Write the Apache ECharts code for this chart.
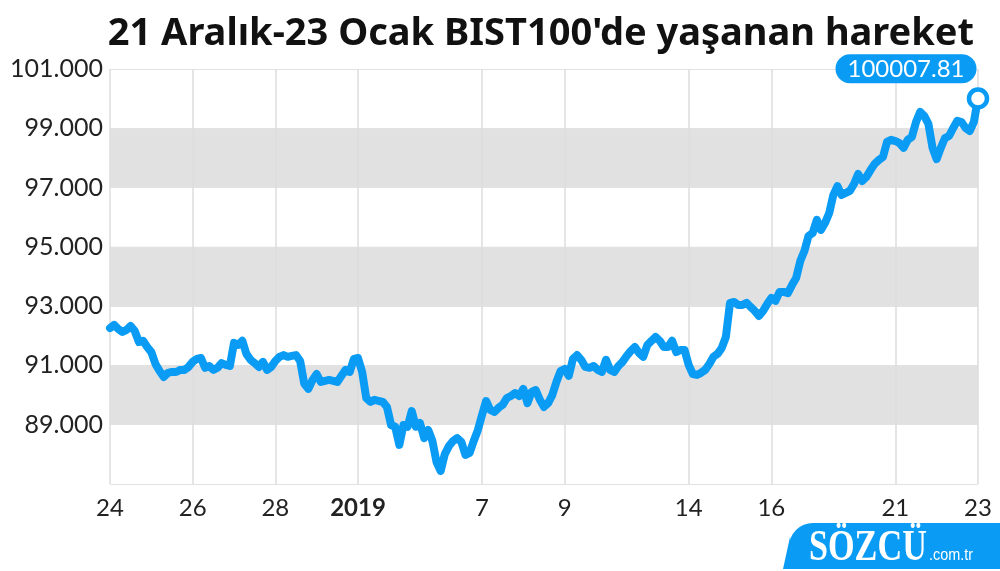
<!DOCTYPE html>
<html>
<head>
<meta charset="utf-8">
<script src="https://cdn.jsdelivr.net/npm/echarts@6/dist/echarts.min.js"></script>
<style>
html,body{margin:0;padding:0;background:#fff;}
#chart{width:1000px;height:571px;}
</style>
</head>
<body>
<div id="chart"></div>
<script>
// ---- data ----
const titleText = "21 Aralık-23 Ocak BIST100'de yaşanan hareket";
const dayLabels = ['24', '26', '28', '2019', '7', '9', '14', '16', '21', '23'];
const dayTickIndex = [0, 2, 4, 6, 9, 11, 14, 16, 19, 21]; // trading-day index of each label
const pointsPerDay = 10;
const yTicks = [87000, 89000, 91000, 93000, 95000, 97000, 99000, 101000];
const lastValueLabel = '100007.81';
const bist100 = [
  92260, 92370, 92230, 92130, 92200, 92330, 92160, 91790, 91830, 91620,
  91450, 91050, 90810, 90610, 90750, 90780, 90780, 90850, 90850, 90950,
  91120, 91220, 91250, 90920, 90980, 90850, 90920, 91080, 91020, 90980,
  91760, 91690, 91830, 91390, 91190, 91080, 90950, 91120, 90850, 90950,
  91150, 91290, 91350, 91290, 91320, 91350, 91150, 90380, 90210, 90510,
  90710, 90440, 90480, 90510, 90480, 90440, 90650, 90850, 90780, 91220,
  91250, 90780, 89900, 89770, 89840, 89800, 89770, 89600, 88990, 88930,
  88320, 88990, 88930, 89460, 88930, 89060, 88550, 88820, 88450, 87740,
  87440, 88010, 88280, 88450, 88550, 88420, 87980, 88050, 88450, 88820,
  89330, 89800, 89500, 89430, 89570, 89670, 89900, 89970, 90070, 89970,
  90210, 89730, 90110, 90170, 89840, 89600, 89730, 90000, 90440, 90810,
  90880, 90650, 91220, 91350, 91190, 90950, 90920, 90980, 90850, 90780,
  91190, 90850, 90780, 90980, 91120, 91320, 91490, 91620, 91420, 91290,
  91690, 91830, 91960, 91830, 91620, 91620, 91830, 91450, 91520, 91520,
  91020, 90710, 90680, 90750, 90850, 91050, 91290, 91390, 91590, 91960,
  93110, 93140, 93040, 93040, 93110, 92970, 92840, 92670, 92840, 93070,
  93280, 93180, 93480, 93480, 93440, 93710, 93950, 94520, 94860, 95370,
  95470, 95910, 95570, 95810, 96140, 96750, 97050, 96750, 96820, 96890,
  97120, 97460, 97220, 97360, 97590, 97800, 97930, 98030, 98540, 98610,
  98570, 98500, 98340, 98610, 98710, 99210, 99550, 99420, 99150, 98340,
  97960, 98340, 98670, 98740, 99010, 99250, 99210, 99010, 98910, 99210,
  100007.81
];

// ---- build ----
const BLUE = '#0a9bf5';
const labelAt = {};
dayTickIndex.forEach((d, k) => { labelAt[d * pointsPerDay] = dayLabels[k]; });
const categories = bist100.map((v, i) => (labelAt[i] !== undefined ? labelAt[i] : ''));
const isTick = (idx) => labelAt[idx] !== undefined;

const chart = echarts.init(document.getElementById('chart'), null, { renderer: 'canvas' });
const lastIdx = bist100.length - 1;

chart.setOption({
  backgroundColor: '#fff',
  animation: false,
  title: {
    text: titleText,
    right: 21,
    top: 10,
    textStyle: { fontFamily: 'Noto Sans', fontWeight: 'bold', fontSize: 38, color: '#111' }
  },
  grid: { left: 110, right: 22, top: 69, bottom: 87 },
  xAxis: {
    type: 'category',
    data: categories,
    boundaryGap: false,
    axisLine: { show: false },
    axisTick: { show: false },
    axisLabel: {
      interval: (idx) => isTick(idx),
      margin: 12,
      fontFamily: 'Lato',
      fontSize: 24,
      color: '#222',
      formatter: (v) => (v === '2019' ? '{b|' + v + '}' : v),
      rich: { b: { fontFamily: 'Lato', fontSize: 24, fontWeight: 'bold', color: '#222' } }
    },
    splitLine: { show: true, interval: (idx) => isTick(idx), lineStyle: { color: '#dcdcdc', width: 1.5 } }
  },
  yAxis: {
    type: 'value',
    min: yTicks[0],
    max: yTicks[yTicks.length - 1],
    interval: 2000,
    axisLine: { show: false },
    axisTick: { show: false },
    axisLabel: {
      showMinLabel: false,
      margin: 7,
      fontFamily: 'Lato',
      fontSize: 25,
      color: '#222',
      formatter: (v) => (v / 1000).toFixed(3)
    },
    splitLine: { show: true, lineStyle: { color: '#e2e2e2', width: 1 } },
    splitArea: { show: true, areaStyle: { color: ['rgba(255,255,255,0)', '#e1e1e1'] } }
  },
  series: [{
    type: 'line',
    data: bist100,
    showSymbol: false,
    smooth: false,
    lineStyle: { color: BLUE, width: 8, cap: 'round', join: 'round' },
    itemStyle: { color: BLUE },
    markPoint: {
      symbol: 'circle',
      symbolSize: 18,
      itemStyle: { color: '#fff', borderColor: BLUE, borderWidth: 4.5 },
      data: [{ coord: [lastIdx, bist100[lastIdx]], value: lastValueLabel }],
      label: {
        show: true,
        position: 'top',
        distance: 4,
        offset: [-72, 0],
        formatter: lastValueLabel,
        backgroundColor: BLUE,
        color: '#fff',
        fontFamily: 'Lato',
        fontSize: 24,
        padding: [3, 12, 2, 12],
        borderRadius: 15
      }
    }
  }],
  graphic: [{
    type: 'group',
    right: 0,
    bottom: 0,
    children: [
      { type: 'rect', shape: { x: 6, y: 0, width: 211, height: 46, r: [24, 0, 0, 0] }, style: { fill: BLUE } },
      { type: 'polygon', shape: { points: [[0, 46], [7, 14], [12, 46]] }, style: { fill: BLUE } },
      { type: 'text', x: 26, y: 3, scaleX: 0.76, style: { text: 'SÖZCÜ', fill: '#fff', font: 'bold 45px "Liberation Serif"' } },
      { type: 'text', x: 146, y: 24, scaleX: 0.85, style: { text: '.com.tr', fill: '#fff', font: '17px "Liberation Sans"' } }
    ]
  }]
});
</script>
</body>
</html>
